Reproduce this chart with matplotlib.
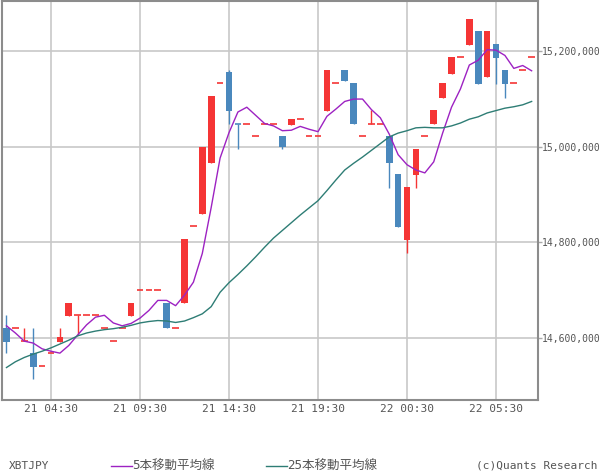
import numpy as np
import pandas as pd
import matplotlib
matplotlib.use("Agg")
import matplotlib.pyplot as plt
from matplotlib.lines import Line2D
from matplotlib.ticker import FixedLocator, FuncFormatter

plt.rcParams['font.family'] = ['DejaVu Sans Mono', 'Noto Sans CJK JP']

# 30 min candles, XBTJPY, prices in thousand JPY
opens = [14621, 14621, 14594, 14569, 14542, 14569, 14592, 14646, 14648, 14648,
         14648, 14621, 14594, 14621, 14646, 14700, 14700, 14700, 14673, 14621,
         14673, 14834, 14859, 14965, 15132, 15155, 15048, 15048, 15021, 15048,
         15048, 15021, 15044, 15057, 15021, 15021, 15075, 15132, 15159, 15132,
         15021, 15048, 15048, 15021, 14942, 14805, 14940, 15021, 15046, 15102,
         15152, 15186, 15211, 15240, 15146, 15213, 15159, 15132, 15159, 15186]
highs = [14648, 14621, 14621, 14621, 14542, 14569, 14621, 14673, 14648, 14648,
         14648, 14621, 14594, 14621, 14673, 14700, 14700, 14700, 14673, 14621,
         14807, 14834, 15000, 15105, 15132, 15159, 15048, 15048, 15021, 15048,
         15048, 15021, 15057, 15057, 15021, 15021, 15159, 15132, 15159, 15132,
         15021, 15077, 15048, 15021, 14942, 14915, 14994, 15021, 15077, 15132,
         15186, 15186, 15267, 15240, 15240, 15213, 15159, 15132, 15159, 15186]
lows = [14569, 14621, 14594, 14515, 14542, 14569, 14592, 14646, 14607, 14648,
        14648, 14621, 14594, 14621, 14646, 14700, 14700, 14700, 14621, 14621,
        14673, 14834, 14859, 14965, 15132, 15048, 14994, 15048, 15021, 15048,
        15048, 14994, 15044, 15057, 15021, 15021, 15075, 15132, 15136, 15046,
        15021, 15048, 15048, 14913, 14832, 14778, 14913, 15021, 15046, 15102,
        15152, 15186, 15211, 15130, 15146, 15130, 15102, 15132, 15159, 15186]
closes = [14592, 14621, 14594, 14540, 14542, 14569, 14602, 14673, 14648, 14648,
          14648, 14621, 14594, 14621, 14673, 14700, 14700, 14700, 14621, 14621,
          14807, 14834, 15000, 15105, 15132, 15075, 15047, 15048, 15021, 15048,
          15048, 14998, 15057, 15057, 15021, 15021, 15159, 15132, 15136, 15046,
          15021, 15048, 15048, 14965, 14832, 14915, 14994, 15021, 15077, 15132,
          15186, 15186, 15267, 15130, 15240, 15184, 15130, 15132, 15159, 15186]
ma5 = [14626, 14611, 14594, 14590, 14578, 14573, 14569, 14585, 14607, 14628,
       14644, 14648, 14632, 14626, 14631, 14642, 14658, 14679, 14679, 14668,
       14690, 14717, 14777, 14873, 14976, 15029, 15072, 15082, 15065, 15048,
       15043, 15033, 15034, 15042, 15036, 15031, 15063, 15078, 15094, 15099,
       15099, 15077, 15060, 15026, 14983, 14962, 14951, 14945, 14968, 15028,
       15082, 15120, 15170, 15180, 15202, 15201, 15190, 15163, 15169, 15158]
ma25 = [14539, 14551, 14560, 14567, 14573, 14580, 14588, 14596, 14605, 14611,
        14615, 14618, 14620, 14623, 14627, 14632, 14635, 14637, 14636, 14633,
        14636, 14643, 14651, 14666, 14696, 14716, 14733, 14751, 14770, 14790,
        14809, 14825, 14841, 14857, 14872, 14887, 14908, 14930, 14951, 14965,
        14978, 14992, 15006, 15020, 15028, 15033, 15039, 15040, 15039, 15039,
        15043, 15049, 15057, 15062, 15070, 15075, 15080, 15083, 15087, 15094]

yticks = [14600000, 14800000, 15000000, 15200000]

RED = "#f53535"
BLUE = "#4a88bd"
PURPLE = "#9d22c2"
TEAL = "#2e7d75"
GRAY_TXT = "#555555"

o = np.array(opens) * 1000
h = np.array(highs) * 1000
l = np.array(lows) * 1000
c = np.array(closes) * 1000
n = len(c)
x = np.arange(n)
times = pd.date_range("2000-01-21 02:00", periods=n, freq="30min")
labels = times.strftime("%d %H:%M")
tick_idx = list(range(5, n, 10))

fig = plt.figure(figsize=(6, 4.75), dpi=100)
ax = fig.add_axes([1.5 / 600, 75.5 / 475, 536 / 600, 399 / 475])

ax.grid(True, color="#c8c8c8", lw=1.2, zorder=0)
ax.set_axisbelow(True)

up = c >= o
cols = np.where(up, RED, BLUE)
ax.vlines(x, l, h, colors=cols, lw=1, zorder=2)

# bodies; open == close drawn as a flat dash
body = np.abs(c - o)
doji = body < 3000
w = 0.75
ax.bar(x[~doji], body[~doji], bottom=np.minimum(o, c)[~doji], width=w,
       color=cols[~doji], linewidth=0, zorder=3)
ax.hlines(c[doji], x[doji] - w / 2, x[doji] + w / 2, colors=cols[doji],
          lw=1.2, zorder=3)

ax.plot(x, np.array(ma5) * 1000, color=PURPLE, lw=1, zorder=4)
ax.plot(x, np.array(ma25) * 1000, color=TEAL, lw=1, zorder=4)

ax.set_xlim(-0.56, 59.66)
ax.set_ylim(14472300, 15304600)

ax.set_xticks(tick_idx)
ax.set_xticklabels([labels[i] for i in tick_idx])
ax.yaxis.set_major_locator(FixedLocator(yticks))
ax.yaxis.set_major_formatter(FuncFormatter(lambda v, _: f"{v:,.0f}"))
ax.yaxis.tick_right()
ax.tick_params(axis="x", length=0, pad=3, labelsize=8, labelcolor=GRAY_TXT)
ax.tick_params(axis="y", length=3, width=1, color="#aaaaaa", pad=0.3,
               labelsize=7, labelcolor=GRAY_TXT)

for s in ax.spines.values():
    s.set_color("#8c8c8c")
    s.set_linewidth(1.5)

# bottom legend row
ly = 9 / 475
fig.text(9 / 600, ly, "XBTJPY", fontsize=8, color=GRAY_TXT, va="center")
fig.add_artist(Line2D([111 / 600, 132 / 600], [ly, ly], color=PURPLE, lw=1))
fig.text(132 / 600, ly, "5本移動平均線", fontsize=9, color=GRAY_TXT, va="center")
fig.add_artist(Line2D([266 / 600, 287 / 600], [ly, ly], color=TEAL, lw=1))
fig.text(287 / 600, ly, "25本移動平均線", fontsize=9, color=GRAY_TXT, va="center")
fig.text(598 / 600, ly, "(c)Quants Research", fontsize=8, color=GRAY_TXT,
         va="center", ha="right")

fig.savefig("out.png", dpi=100)
